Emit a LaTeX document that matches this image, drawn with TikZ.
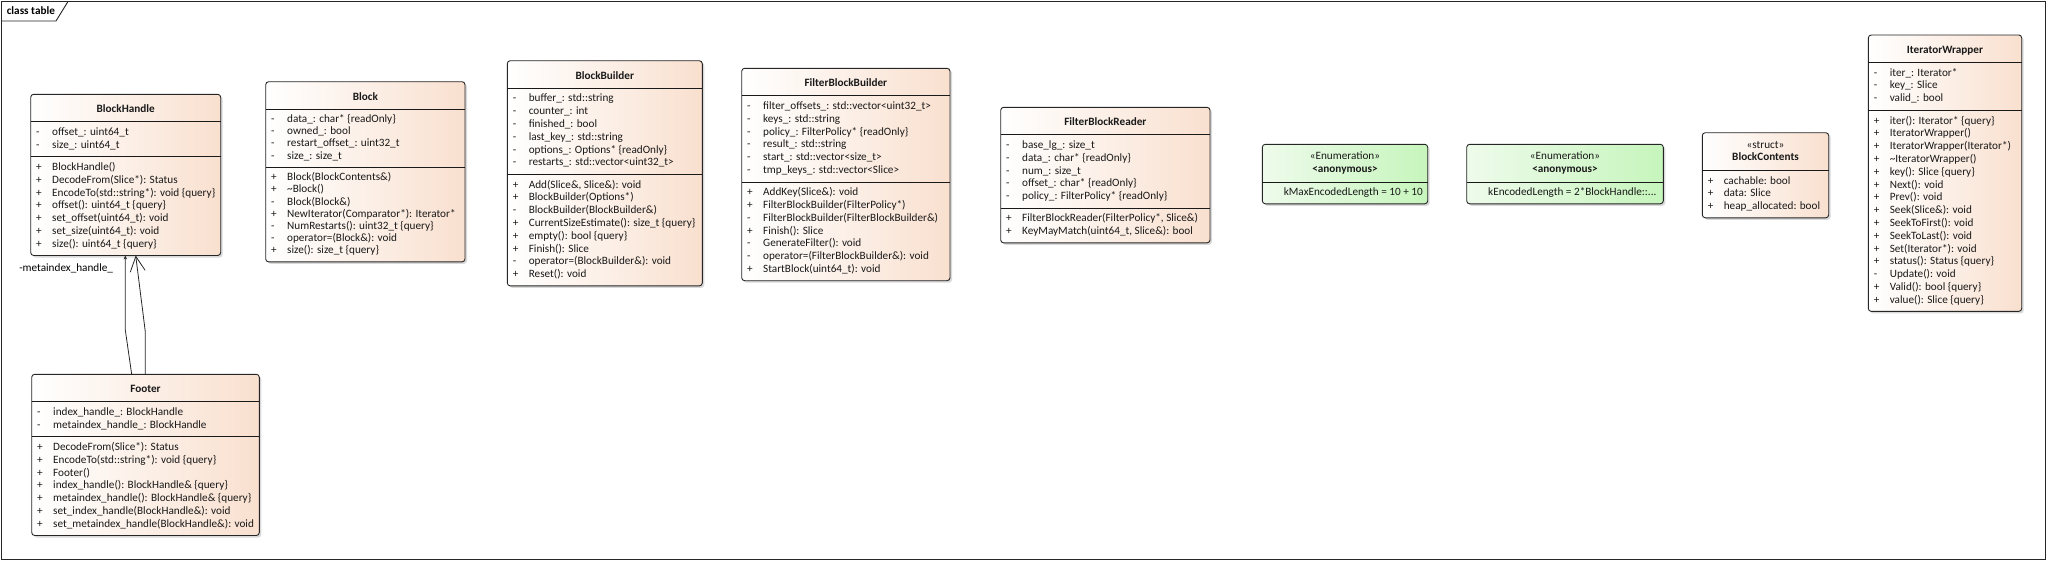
\documentclass[tikz,border=0pt]{standalone}
\usepackage{fontspec}
\setmainfont{Carlito}
\usetikzlibrary{arrows.meta,shadows}

\definecolor{peach}{RGB}{249,224,207}
\definecolor{enumpale}{RGB}{238,251,235}
\definecolor{enumgreen}{RGB}{198,245,188}

\newcommand\classfont{\fontsize{11.2}{12.8}\selectfont}
\newcommand\rowpad{4.3pt}
\newcommand\cls[2]{\vbox{\hsize=#1pt #2\vskip\rowpad}}
\newcommand\ttl[1]{\hbox to\hsize{\hfil\rule[-8.6pt]{0pt}{27pt}\textbf{#1}\hfil}\hrule height .9pt\vskip\rowpad}
\newcommand\sttl[2]{\hbox to\hsize{\hfil\rule{0pt}{15.4pt}«#1»\hfil}%
  \hbox to\hsize{\hfil\rule[-9pt]{0pt}{9pt}\textbf{#2}\hfil}\hrule height .9pt\vskip\rowpad}
\newcommand\sep{\vskip\rowpad\hrule height .9pt\vskip\rowpad}
\newcommand\mem[2]{\hbox to\hsize{\hspace*{5.5pt}\makebox[16pt][l]{#1}#2\strut\hss}}

\begin{document}
\begin{tikzpicture}[x=1pt,y=-1pt,>=Straight Barb,semithick]
  \tikzstyle{umlclass}=[draw=black!85,line width=.9pt,rounded corners=3pt,inner sep=0pt,outer sep=0pt,
    anchor=north west,left color=white,right color=peach,text=black!90,font=\classfont,
    drop shadow={shadow xshift=2pt,shadow yshift=-2pt,opacity=.3}]
  \tikzstyle{umlenum}=[umlclass,left color=enumpale,right color=enumgreen]
  \tikzstyle{assoc}=[draw=black!85,line width=.8pt]

  \useasboundingbox (0,0) rectangle (2047,560);
  \draw[black!85,line width=.9pt] (1.5,1.5) rectangle (2045.5,559);
  \draw[black!85,line width=.9pt] (1.5,21) -- (56,21) -- (68,1.5);
  \node[anchor=base west,font=\bfseries\classfont,inner sep=0pt] (frameLabel) at (6.5,14.5) {class table};

  \node[umlclass] (BlockHandle) at (30.7,94.3) {\cls{190}{\ttl{BlockHandle}
    \mem{-}{offset\_: uint64\_t}
    \mem{-}{size\_: uint64\_t}\sep
    \mem{+}{BlockHandle()}
    \mem{+}{DecodeFrom(Slice*): Status}
    \mem{+}{EncodeTo(std::string*): void \{query\}}
    \mem{+}{offset(): uint64\_t \{query\}}
    \mem{+}{set\_offset(uint64\_t): void}
    \mem{+}{set\_size(uint64\_t): void}
    \mem{+}{size(): uint64\_t \{query\}}}};

  \node[umlclass] (Footer) at (31.7,374.3) {\cls{227.6}{\ttl{Footer}
    \mem{-}{index\_handle\_: BlockHandle}
    \mem{-}{metaindex\_handle\_: BlockHandle}\sep
    \mem{+}{DecodeFrom(Slice*): Status}
    \mem{+}{EncodeTo(std::string*): void \{query\}}
    \mem{+}{Footer()}
    \mem{+}{index\_handle(): BlockHandle\& \{query\}}
    \mem{+}{metaindex\_handle(): BlockHandle\& \{query\}}
    \mem{+}{set\_index\_handle(BlockHandle\&): void}
    \mem{+}{set\_metaindex\_handle(BlockHandle\&): void}}};

  \node[umlclass,font=\fontsize{11.2}{12.2}\selectfont] (Block) at (265.7,81.7) {\cls{199.3}{\ttl{Block}
    \mem{-}{data\_: char* \{readOnly\}}
    \mem{-}{owned\_: bool}
    \mem{-}{restart\_offset\_: uint32\_t}
    \mem{-}{size\_: size\_t}\sep
    \mem{+}{Block(BlockContents\&)}
    \mem{+}{\textasciitilde Block()}
    \mem{-}{Block(Block\&)}
    \mem{+}{NewIterator(Comparator*): Iterator*}
    \mem{-}{NumRestarts(): uint32\_t \{query\}}
    \mem{-}{operator=(Block\&): void}
    \mem{+}{size(): size\_t \{query\}}}};

  \node[umlclass] (BlockBuilder) at (507.3,60.7) {\cls{195}{\ttl{BlockBuilder}
    \mem{-}{buffer\_: std::string}
    \mem{-}{counter\_: int}
    \mem{-}{finished\_: bool}
    \mem{-}{last\_key\_: std::string}
    \mem{-}{options\_: Options* \{readOnly\}}
    \mem{-}{restarts\_: std::vector<uint32\_t>}\sep
    \mem{+}{Add(Slice\&, Slice\&): void}
    \mem{+}{BlockBuilder(Options*)}
    \mem{-}{BlockBuilder(BlockBuilder\&)}
    \mem{+}{CurrentSizeEstimate(): size\_t \{query\}}
    \mem{+}{empty(): bool \{query\}}
    \mem{+}{Finish(): Slice}
    \mem{-}{operator=(BlockBuilder\&): void}
    \mem{+}{Reset(): void}}};

  \node[umlclass] (FilterBlockBuilder) at (741.7,68.3) {\cls{208.3}{\ttl{FilterBlockBuilder}
    \mem{-}{filter\_offsets\_: std::vector<uint32\_t>}
    \mem{-}{keys\_: std::string}
    \mem{-}{policy\_: FilterPolicy* \{readOnly\}}
    \mem{-}{result\_: std::string}
    \mem{-}{start\_: std::vector<size\_t>}
    \mem{-}{tmp\_keys\_: std::vector<Slice>}\sep
    \mem{+}{AddKey(Slice\&): void}
    \mem{+}{FilterBlockBuilder(FilterPolicy*)}
    \mem{-}{FilterBlockBuilder(FilterBlockBuilder\&)}
    \mem{+}{Finish(): Slice}
    \mem{-}{GenerateFilter(): void}
    \mem{-}{operator=(FilterBlockBuilder\&): void}
    \mem{+}{StartBlock(uint64\_t): void}}};

  \node[umlclass] (FilterBlockReader) at (1000.7,107.3) {\cls{209.3}{\ttl{FilterBlockReader}
    \mem{-}{base\_lg\_: size\_t}
    \mem{-}{data\_: char* \{readOnly\}}
    \mem{-}{num\_: size\_t}
    \mem{-}{offset\_: char* \{readOnly\}}
    \mem{-}{policy\_: FilterPolicy* \{readOnly\}}\sep
    \mem{+}{FilterBlockReader(FilterPolicy*, Slice\&)}
    \mem{+}{KeyMayMatch(uint64\_t, Slice\&): bool}}};

  \node[umlenum] (MaxLengthEnum) at (1262.3,144.3) {\cls{165.4}{\sttl{Enumeration}{<anonymous>}
    \mem{}{kMaxEncodedLength = 10 + 10}}};

  \node[umlenum] (FooterLengthEnum) at (1466.7,144.3) {\cls{196.6}{\sttl{Enumeration}{<anonymous>}
    \mem{}{kEncodedLength = 2*BlockHandle::...}}};

  \node[umlclass] (BlockContents) at (1702.3,132.7) {\cls{126.4}{\sttl{struct}{BlockContents}
    \mem{+}{cachable: bool}
    \mem{+}{data: Slice}
    \mem{+}{heap\_allocated: bool}}};

  \node[umlclass] (IteratorWrapper) at (1868.3,35) {\cls{153.4}{\ttl{IteratorWrapper}
    \mem{-}{iter\_: Iterator*}
    \mem{-}{key\_: Slice}
    \mem{-}{valid\_: bool}\sep
    \mem{+}{iter(): Iterator* \{query\}}
    \mem{+}{IteratorWrapper()}
    \mem{+}{IteratorWrapper(Iterator*)}
    \mem{+}{\textasciitilde IteratorWrapper()}
    \mem{+}{key(): Slice \{query\}}
    \mem{+}{Next(): void}
    \mem{+}{Prev(): void}
    \mem{+}{Seek(Slice\&): void}
    \mem{+}{SeekToFirst(): void}
    \mem{+}{SeekToLast(): void}
    \mem{+}{Set(Iterator*): void}
    \mem{+}{status(): Status \{query\}}
    \mem{-}{Update(): void}
    \mem{+}{Valid(): bool \{query\}}
    \mem{+}{value(): Slice \{query\}}}};

  \draw[assoc,-{Stealth[length=4pt,width=3.5pt]}] ([xshift=100pt]Footer.north west) -- ++(-6.4,-44.3)
    -- ([xshift=94.6pt]BlockHandle.south west);
  \draw[assoc,-{Straight Barb[length=15pt,width=15pt]}] ([xshift=113.6pt]Footer.north west) -- ++(0,-42.6)
    -- ([xshift=105pt]BlockHandle.south west);
  \node[anchor=base west,font=\classfont,inner sep=0pt] (metaRole) at (19,271.5) {-metaindex\_handle\_};
\end{tikzpicture}
\end{document}
